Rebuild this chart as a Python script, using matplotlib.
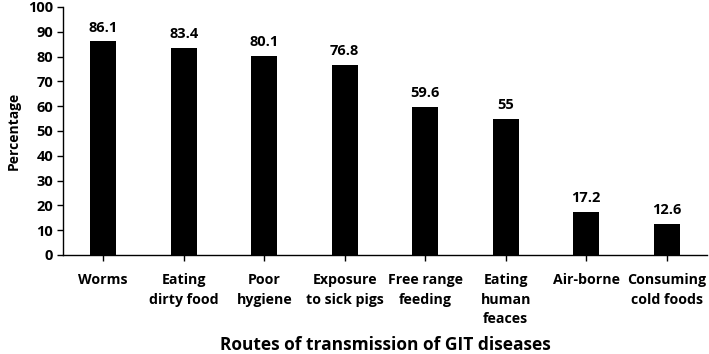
import numpy as np
import matplotlib
matplotlib.use("Agg")
import matplotlib.pyplot as plt

categories = ["Worms", "Eating\ndirty food", "Poor\nhygiene", "Exposure\nto sick pigs",
              "Free range\nfeeding", "Eating\nhuman\nfeaces", "Air-borne", "Consuming\ncold foods"]
values = [86.1, 83.4, 80.1, 76.8, 59.6, 55, 17.2, 12.6]
value_labels = ["86.1", "83.4", "80.1", "76.8", "59.6", "55", "17.2", "12.6"]

plt.rcParams["font.family"] = ["Open Sans", "DejaVu Sans"]
plt.rcParams["font.weight"] = "bold"

fig = plt.figure(figsize=(7.09, 3.54), dpi=100)
ax = fig.add_axes([63 / 709, 1 - 255 / 354, (707 - 63) / 709, (255 - 7) / 354])

x = np.arange(len(categories))
ax.bar(x, values, width=0.32, color="black")
for xi, v, lab in zip(x, values, value_labels):
    ax.annotate(lab, (xi, v), xytext=(0, 5), textcoords="offset points",
                ha="center", va="bottom", fontsize=10.5, fontweight="bold")

ax.set_xlim(-0.5, len(categories) - 0.5)
ax.set_ylim(0, 100)
ax.set_yticks(np.arange(0, 101, 10))
ax.set_xticks(x)
ax.set_xticklabels(categories, fontsize=10.2, fontweight="bold", linespacing=1.5)
ax.tick_params(axis="y", labelsize=10.5, direction="out", length=4, width=1, pad=3)
ax.tick_params(axis="x", direction="out", length=4, width=1, pad=9)
for lab in ax.get_yticklabels():
    lab.set_fontweight("bold")
for s in ["top", "right"]:
    ax.spines[s].set_visible(False)
ax.spines["left"].set_linewidth(1)
ax.spines["bottom"].set_linewidth(1)

ax.set_ylabel("Percentage", fontsize=10, fontweight="bold", labelpad=5)
fig.text(0.5 * (63 + 707) / 709, 1 - 350 / 354, "Routes of transmission of GIT diseases",
         ha="center", va="baseline", fontsize=12.5, fontweight="bold")

fig.savefig("out.png", dpi=100)
